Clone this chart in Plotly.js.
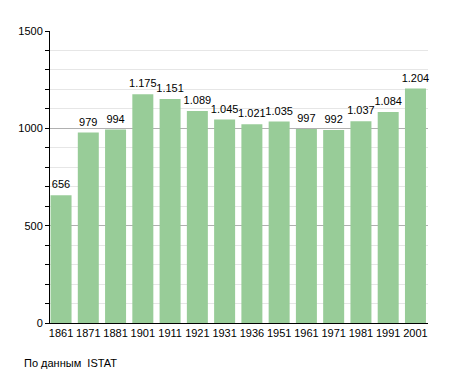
<!DOCTYPE html>
<html><head><meta charset="utf-8">
<script src="https://cdn.plot.ly/plotly-3.0.1.min.js"></script>
<style>html,body{margin:0;padding:0;background:#fff}</style>
</head><body>
<div id="chart" style="width:455px;height:373px"></div>
<script>
const years = ["1861","1871","1881","1901","1911","1921","1931","1936","1951","1961","1971","1981","1991","2001"];
const population = [656,979,994,1175,1151,1089,1045,1021,1035,997,992,1037,1084,1204];
const yTicks = [0,500,1000,1500];
const sourceNote = "По данным  ISTAT";

const fmt = v => v >= 1000 ? Math.floor(v/1000) + '.' + String(v%1000).padStart(3,'0') : String(v);

const bars = {
  type: 'bar', x: years, y: population,
  marker: {color: '#98cc98'},
  hoverinfo: 'none'
};
const labels = {
  type: 'scatter', mode: 'markers+text', x: years, y: population,
  marker: {size: 5, opacity: 0},
  text: population.map(fmt), textposition: 'top center',
  textfont: {family: 'Liberation Sans, Arial, sans-serif', size: 11, color: '#000'},
  cliponaxis: false, hoverinfo: 'none'
};
const layout = {
  width: 455, height: 373,
  margin: {l: 50, r: 27, t: 31, b: 50},
  paper_bgcolor: '#fff', plot_bgcolor: '#fff',
  bargap: 0.23,
  showlegend: false,
  font: {family: 'Liberation Sans, Arial, sans-serif', size: 11, color: '#000'},
  xaxis: {
    type: 'category', range: [-0.405, 13.46],
    showline: true, linecolor: '#000', linewidth: 1,
    ticks: '', showgrid: false, zeroline: false,
    tickfont: {size: 11}, ticklabelstandoff: 0
  },
  yaxis: {
    range: [0, 1500], tickvals: yTicks, ticktext: yTicks.map(String),
    showline: true, linecolor: '#000', linewidth: 1,
    ticks: 'outside', ticklen: 4, tickcolor: '#000',
    showgrid: true, gridcolor: '#b0b0b0', gridwidth: 1, zeroline: false,
    minor: {dtick: 100, ticks: 'outside', ticklen: 4, tickcolor: '#000', showgrid: true, gridcolor: '#e6e6e6', gridwidth: 1},
    tickfont: {size: 11}
  },
  annotations: [{
    text: sourceNote, xref: 'paper', yref: 'paper', x: -0.075, y: -0.11,
    xanchor: 'left', yanchor: 'top', showarrow: false,
    font: {size: 11, color: '#000'}
  }]
};
Plotly.newPlot('chart', [bars, labels], layout, {staticPlot: true, displayModeBar: false});
</script>
</body></html>
